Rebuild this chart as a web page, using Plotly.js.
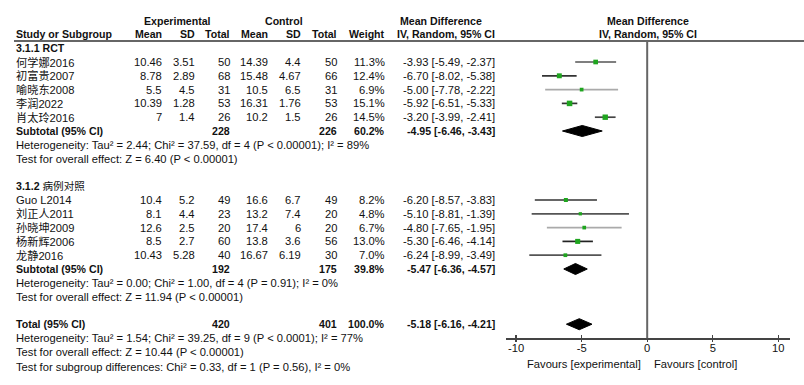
<!DOCTYPE html>
<html>
<head>
<meta charset="utf-8">
<script src="https://cdn.plot.ly/plotly-3.0.1.min.js"></script>
<style>html,body{margin:0;padding:0;background:#fff;}#chart{width:804px;height:385px;}</style>
</head>
<body>
<div id="chart"></div>
<script>
// ---------------- data ----------------
const studyNames = ['何学娜2016','初富贵2007','喻晓东2008','李润2022','肖太玲2016',
                    'Guo L2014','刘正人2011','孙晓坤2009','杨新辉2006','龙静2016'];
const studyGroup = [0,0,0,0,0,1,1,1,1,1];
const expMean = [10.46, 8.78, 5.5, 10.39, 7, 10.4, 8.1, 12.6, 8.5, 10.43];
const expSD   = [3.51, 2.89, 4.5, 1.28, 1.4, 5.2, 4.4, 2.5, 2.7, 5.28];
const expN    = [50, 68, 31, 53, 26, 49, 23, 20, 60, 40];
const ctlMean = [14.39, 15.48, 10.5, 16.31, 10.2, 16.6, 13.2, 17.4, 13.8, 16.67];
const ctlSD   = [4.4, 4.67, 6.5, 1.76, 1.5, 6.7, 7.4, 6, 3.6, 6.19];
const ctlN    = [50, 66, 31, 53, 26, 49, 20, 20, 56, 30];
const weight  = [11.3, 12.4, 6.9, 15.1, 14.5, 8.2, 4.8, 6.7, 13.0, 7.0];
const md      = [-3.93, -6.70, -5.00, -5.92, -3.20, -6.20, -5.10, -4.80, -5.30, -6.24];
const mdLo    = [-5.49, -8.02, -7.78, -6.51, -3.99, -8.57, -8.81, -7.65, -6.46, -8.99];
const mdHi    = [-2.37, -5.38, -2.22, -5.33, -2.41, -3.83, -1.39, -1.95, -4.14, -3.49];

const subgroupIds    = ['3.1.1', '3.1.2'];
const subgroupNames  = ['RCT', '病例对照'];
const subExpN   = [228, 192];
const subCtlN   = [226, 175];
const subWeight = [60.2, 39.8];
const subMD     = [-4.95, -5.47];
const subLo     = [-6.46, -6.36];
const subHi     = [-3.43, -4.57];
const subHet  = ['Heterogeneity: Tau² = 2.44; Chi² = 37.59, df = 4 (P < 0.00001); I² = 89%',
                 'Heterogeneity: Tau² = 0.00; Chi² = 1.00, df = 4 (P = 0.91); I² = 0%'];
const subTest = ['Test for overall effect: Z = 6.40 (P < 0.00001)',
                 'Test for overall effect: Z = 11.94 (P < 0.00001)'];

const totExpN = 420, totCtlN = 401, totWeight = 100.0;
const totMD = -5.18, totLo = -6.16, totHi = -4.21;
const totHet = 'Heterogeneity: Tau² = 1.54; Chi² = 39.25, df = 9 (P < 0.0001); I² = 77%';
const totTest = 'Test for overall effect: Z = 10.44 (P < 0.00001)';
const subDiff = 'Test for subgroup differences: Chi² = 0.33, df = 1 (P = 0.56), I² = 0%';

const tickVals = [-10, -5, 0, 5, 10];
const tickText = ['-10', '-5', '0', '5', '10'];
const favLeft = 'Favours [experimental]';
const favRight = 'Favours [control]';

// ---------------- styles / layout geometry ----------------
const W = 804, H = 385;
const ROW0 = 62, ROWH = 13.8;              // pixel of row 0, row height
const yTop = -ROW0 / ROWH, yBot = (H - ROW0) / ROWH;
const FONT = '"Liberation Sans", Arial, "Noto Sans CJK SC", sans-serif';
const TXT = '#111';
const FS = 11.2, FSB = 10.6;
const lineColors = ['#555','#333','#aaa','#333','#444','#333','#555','#aaa','#222','#555'];
const markerColor = '#1fa51f';
const px = v => v / W;
const col = {study: 15, eMean: 163, eSD: 195.5, eN: 231, cMean: 269, cSD: 302, cN: 338, wt: 385.5, ci: 496};
const axisPixY = 338.3, headPixY = 41;

const fmt2 = v => v.toFixed(2);
const ciStr = (m, l, h) => fmt2(m) + ' [' + fmt2(l) + ', ' + fmt2(h) + ']';

const ann = [];
function txt(text, xPix, row, anchor, bold, size) {
  ann.push({text: bold ? '<b>' + text + '</b>' : text, x: px(xPix), xref: 'paper',
            y: row, yref: 'y', xanchor: anchor, yanchor: 'middle', showarrow: false,
            borderpad: 0,
            font: {family: FONT, size: size || (bold ? FSB : FS), color: TXT}});
}

// headers
txt('Experimental', 177.5, -3, 'center', true);
txt('Control', 284, -3, 'center', true);
txt('Mean Difference', 441, -3, 'center', true);
txt('Mean Difference', 647.5, -3, 'center', true);
txt('Study or Subgroup', col.study, -2, 'left', true);
txt('Mean', col.eMean, -2, 'right', true);
txt('SD', col.eSD, -2, 'right', true);
txt('Total', col.eN, -2, 'right', true);
txt('Mean', col.cMean, -2, 'right', true);
txt('SD', col.cSD, -2, 'right', true);
txt('Total', col.cN, -2, 'right', true);
txt('Weight', col.wt, -2, 'right', true);
txt('IV, Random, 95% CI', col.ci, -2, 'right', true);
txt('IV, Random, 95% CI', 647.5, -2, 'center', true);

const traces = [];
function diamond(m, l, h, row) {
  const hh = 0.4;
  traces.push({type: 'scatter', mode: 'lines', x: [l, m, h, m, l], y: [row, row - hh, row, row + hh, row],
               fill: 'toself', fillcolor: '#000', line: {color: '#000', width: 1}, hoverinfo: 'skip'});
}

// rows
const subStartRow = [-1, 9];
for (let g = 0; g < 2; g++) {
  let r = subStartRow[g];
  ann.push({text: '<b>' + subgroupIds[g] + ' ' + (g === 0 ? subgroupNames[g] : '</b>' + subgroupNames[g] + '<b>') + '</b>',
            x: px(col.study), xref: 'paper', y: r, yref: 'y', xanchor: 'left', yanchor: 'middle',
            showarrow: false, borderpad: 0, font: {family: FONT, size: FSB, color: TXT}});
  r++;
  for (let i = 0; i < studyNames.length; i++) {
    if (studyGroup[i] !== g) continue;
    txt(studyNames[i], col.study, r, 'left', false);
    txt(String(expMean[i]), col.eMean, r, 'right');
    txt(String(expSD[i]), col.eSD, r, 'right');
    txt(String(expN[i]), col.eN, r, 'right');
    txt(String(ctlMean[i]), col.cMean, r, 'right');
    txt(String(ctlSD[i]), col.cSD, r, 'right');
    txt(String(ctlN[i]), col.cN, r, 'right');
    txt(weight[i].toFixed(1) + '%', col.wt, r, 'right');
    txt(ciStr(md[i], mdLo[i], mdHi[i]), col.ci, r, 'right');
    traces.push({type: 'scatter', mode: 'lines', x: [mdLo[i], mdHi[i]], y: [r, r],
                 line: {color: lineColors[i], width: 1.7}, hoverinfo: 'skip'});
    traces.push({type: 'scatter', mode: 'markers', x: [md[i]], y: [r],
                 marker: {symbol: 'square', color: markerColor, size: 2.2 + 0.22 * weight[i], line: {width: 0}},
                 hoverinfo: 'skip'});
    r++;
  }
  txt('Subtotal (95% CI)', col.study, r, 'left', true);
  txt(String(subExpN[g]), col.eN, r, 'right', true);
  txt(String(subCtlN[g]), col.cN, r, 'right', true);
  txt(subWeight[g].toFixed(1) + '%', col.wt, r, 'right', true);
  txt(ciStr(subMD[g], subLo[g], subHi[g]), col.ci, r, 'right', true);
  diamond(subMD[g], subLo[g], subHi[g], r);
  r++;
  txt(subHet[g], col.study, r, 'left');
  r++;
  txt(subTest[g], col.study, r, 'left');
}
// total
const totRow = 19;
txt('Total (95% CI)', col.study, totRow, 'left', true);
txt(String(totExpN), col.eN, totRow, 'right', true);
txt(String(totCtlN), col.cN, totRow, 'right', true);
txt(totWeight.toFixed(1) + '%', col.wt, totRow, 'right', true);
txt(ciStr(totMD, totLo, totHi), col.ci, totRow, 'right', true);
diamond(totMD, totLo, totHi, totRow);
txt(totHet, col.study, totRow + 1, 'left');
txt(totTest, col.study, totRow + 2, 'left');
txt(subDiff, col.study, totRow + 3.1, 'left');
txt(favLeft, 642, 21.9, 'right');
txt(favRight, 653, 21.9, 'left');

// dummy trace for the second (tick-only) axis
traces.push({type: 'scatter', mode: 'markers', x: [0], y: [0], xaxis: 'x2', yaxis: 'y',
             marker: {opacity: 0}, hoverinfo: 'skip'});

const xDom = [505.7 / W, 790 / W];
const xRange = [-10.79, 10.89];
const axPos = (H - axisPixY) / H;

const layout = {
  width: W, height: H, margin: {l: 0, r: 0, t: 0, b: 0},
  paper_bgcolor: '#fff', plot_bgcolor: 'rgba(0,0,0,0)', showlegend: false,
  font: {family: FONT, size: FS, color: TXT},
  xaxis: {domain: xDom, range: xRange, anchor: 'free', position: axPos,
          showline: true, linecolor: '#444', linewidth: 1.3, showgrid: false, zeroline: false,
          ticks: 'inside', ticklen: 3, tickwidth: 1.2, tickcolor: '#444',
          tickvals: tickVals, ticktext: tickText, tickfont: {family: FONT, size: FS, color: TXT},
          ticklabelstandoff: -1, fixedrange: true},
  xaxis2: {domain: xDom, range: xRange, anchor: 'free', position: axPos, overlaying: 'x',
           showline: false, showgrid: false, zeroline: false, ticks: 'outside', ticklen: 3,
           tickwidth: 1.2, tickcolor: '#444', tickvals: tickVals, showticklabels: false, fixedrange: true},
  yaxis: {domain: [0, 1], range: [yBot, yTop], visible: false, fixedrange: true},
  shapes: [
    {type: 'line', xref: 'paper', x0: 14 / W, x1: 1, yref: 'paper', y0: 1 - headPixY / H, y1: 1 - headPixY / H,
     line: {color: '#666', width: 2}},
    {type: 'line', xref: 'x', x0: 0, x1: 0, yref: 'paper', y0: 1 - headPixY / H, y1: axPos,
     line: {color: '#666', width: 2}}
  ],
  annotations: ann
};

Plotly.newPlot('chart', traces, layout, {staticPlot: true, displayModeBar: false});
</script>
</body>
</html>
